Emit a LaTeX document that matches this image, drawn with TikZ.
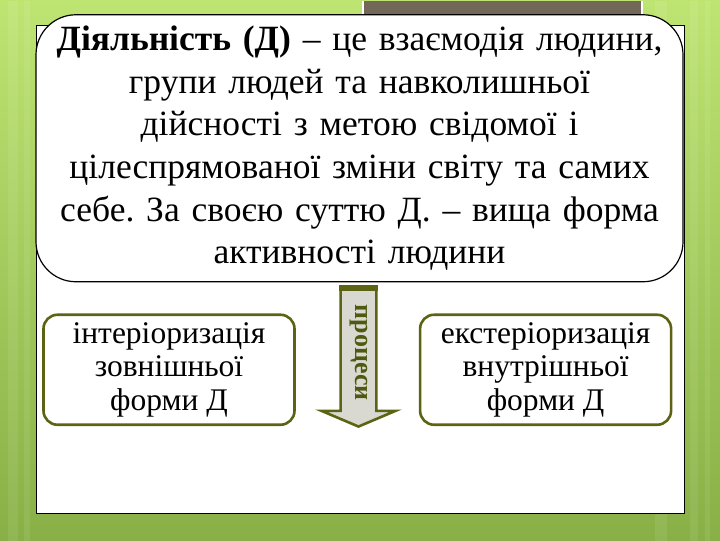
\documentclass[tikz,border=0pt]{standalone}
\usepackage{fontspec}
\setmainfont{Liberation Serif}
\usetikzlibrary{shapes.arrows,positioning}

\definecolor{bgtop}{RGB}{190,228,114}
\definecolor{bgbottom}{RGB}{136,176,70}
\definecolor{slidebrown}{RGB}{115,104,88}
\definecolor{boxolive}{RGB}{92,100,20}
\definecolor{procolive}{RGB}{78,90,16}
\definecolor{arrowgrey}{RGB}{217,217,210}

\begin{document}
\frenchspacing
\begin{tikzpicture}
[
  x=1pt, y=-1pt,
  defbox/.style={draw=black, line width=1.2pt, fill=white, rounded corners=40pt,
    minimum width=647pt, minimum height=267pt, text width=640pt, align=center,
    inner sep=0pt, font=\fontsize{35.5}{42.6}\selectfont},
  formbox/.style={draw=boxolive, line width=2.6pt, fill=white, rounded corners=14pt,
    minimum width=251pt, minimum height=110pt, align=center, inner sep=0pt,
    font=\fontsize{31.5}{33.5}\selectfont},
  procarrow/.style={single arrow, draw=boxolive, line width=2.6pt, fill=arrowgrey,
    rotate=-90, minimum height=140pt, minimum width=74pt,
    single arrow head extend=13pt, single arrow tip angle=134,
    inner sep=2pt, text=procolive, font=\fontsize{26}{26}\selectfont\bfseries},
  node distance=123pt
]
 % background and slide panel
 \shade[top color=bgtop, bottom color=bgbottom] (0,0) rectangle (720,540);
 \foreach \sx/\sw in {8/10, 24/6, 655/12, 690/8, 705/5}
   \fill[white, opacity=0.08] (\sx,0) rectangle ++(\sw,540);
 \fill[slidebrown] (363,0) rectangle (642,13);
 \draw[white, line width=1.5pt] (363,0) -- (363,13) (642,0) -- (642,13);
 \draw[black, line width=0.8pt, fill=white] (36,25) rectangle (684,513);

 \node[defbox] (def) at (359.5,147.5)
   {\textbf{Діяльність (Д)} – це взаємодія людини,\\
    групи людей та навколишньої\\
    дійсності з метою свідомої і\\
    цілеспрямованої зміни світу та самих\\
    себе. За своєю суттю Д. – вища форма\\
    активності людини};

 \node[formbox] (inter) at (169,369) {інтеріоризація\\зовнішньої\\форми Д};
 \node[formbox] (exter) [right=of inter] {екстеріоризація\\внутрішньої\\форми Д};

 \node[procarrow] (proc) at (358.5,352) {процеси};
 \draw[boxolive, line width=6pt] ([yshift=-3pt]proc.before tail) -- ([yshift=-3pt]proc.after tail);
\end{tikzpicture}
\end{document}
